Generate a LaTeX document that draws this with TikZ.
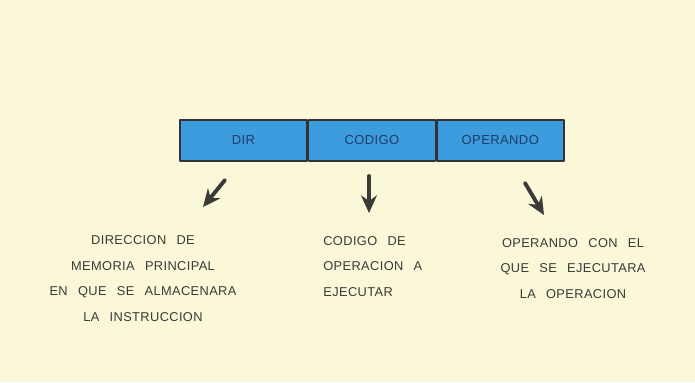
\documentclass[tikz,border=0pt]{standalone}
\usepackage{fontspec}
\setsansfont{Liberation Sans}[LetterSpace=3,WordSpace=2.6]
\usepackage{xcolor}
\usetikzlibrary{arrows.meta,positioning}
\definecolor{paper}{HTML}{FBF7D9}
\definecolor{cellblue}{HTML}{3C9CDD}
\definecolor{cellink}{HTML}{1E3D66}
\definecolor{inkgray}{HTML}{3A3A36}
\tikzset{
  cell/.style={rectangle, draw=black!80, line width=0.8pt, fill=cellblue,
    minimum width=2.54cm, minimum height=0.82cm, inner sep=0pt,
    text=cellink, font=\sffamily\fontsize{7.4}{8}\selectfont},
  note/.style={text=inkgray, inner sep=0pt,
    font=\sffamily\fontsize{7.3}{14.6}\selectfont},
  pointer/.style={draw=inkgray, line width=2.2pt,
    -{Stealth[length=10pt,width=9pt]}},
  every picture/.style={line cap=round, line join=round}
}
\begin{document}
\begin{tikzpicture}
  \fill[paper] (0,0) rectangle (13.9,7.64);
  \useasboundingbox (0,0) rectangle (13.9,7.64);
  \node[cell] (dir) at (4.87,4.83) {DIR};
  \node[cell, right=0pt of dir] (cod) {CODIGO};
  \node[cell, right=0pt of cod] (ope) {OPERANDO};
  \coordinate (dirA) at (4.50,4.04);
  \coordinate (dirB) at (4.06,3.50);
  \coordinate (codA) at (7.38,4.12);
  \coordinate (codB) at (7.38,3.38);
  \coordinate (opeA) at (10.50,3.98);
  \coordinate (opeB) at (10.88,3.34);
  \draw[pointer] (dirA) -- (dirB);
  \draw[pointer] (codA) -- (codB);
  \draw[pointer] (opeA) -- (opeB);
  \node[note, align=center] (dirtxt) at (2.86,2.07)
    {DIRECCION DE\\MEMORIA PRINCIPAL\\EN QUE SE ALMACENARA\\LA INSTRUCCION};
  \node[note, align=left, anchor=west] (codtxt) at (6.46,2.31)
    {CODIGO DE\\OPERACION A\\EJECUTAR};
  \node[note, align=center] (opetxt) at (11.46,2.27)
    {OPERANDO CON EL\\QUE SE EJECUTARA\\LA OPERACION};
\end{tikzpicture}
\end{document}
